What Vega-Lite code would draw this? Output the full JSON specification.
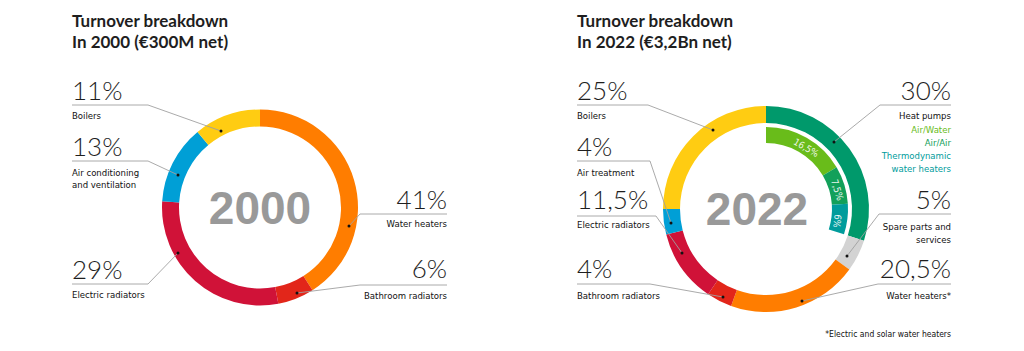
{
  "$schema": "https://vega.github.io/schema/vega-lite/v6.json",
  "width": 1024,
  "height": 351,
  "autosize": {"type": "fit", "contains": "padding"},
  "padding": 0,
  "background": "white",
  "config": {"view": {"stroke": null}, "axis": {"disable": true}, "legend": {"disable": true}},
  "datasets": {
    "donut": [
      {"chart": "2000", "cat": "water", "value": 41, "ord": 1},
      {"chart": "2000", "cat": "bath", "value": 6, "ord": 2},
      {"chart": "2000", "cat": "elec", "value": 29, "ord": 3},
      {"chart": "2000", "cat": "air", "value": 13, "ord": 4},
      {"chart": "2000", "cat": "boil", "value": 11, "ord": 5},
      {"chart": "2022", "cat": "heat", "value": 30, "ord": 1},
      {"chart": "2022", "cat": "spare", "value": 5, "ord": 2},
      {"chart": "2022", "cat": "water", "value": 20.5, "ord": 3},
      {"chart": "2022", "cat": "bath", "value": 4, "ord": 4},
      {"chart": "2022", "cat": "elec", "value": 11.5, "ord": 5},
      {"chart": "2022", "cat": "air", "value": 4, "ord": 6},
      {"chart": "2022", "cat": "boil", "value": 25, "ord": 7}
    ],
    "inner": [
      {"cat": "aw", "value": 16.5, "ord": 1},
      {"cat": "aa", "value": 7.5, "ord": 2},
      {"cat": "thermo", "value": 6, "ord": 3}
    ],
    "callouts": [
      {"hx1": 72, "hx2": 148, "hy": 105, "bx": 148, "px": 221, "py": 131},
      {"hx1": 72, "hx2": 148, "hy": 161, "bx": 148, "px": 178, "py": 175},
      {"hx1": 72, "hx2": 148, "hy": 284, "bx": 148, "px": 178, "py": 253},
      {"hx1": 360, "hx2": 447, "hy": 214, "bx": 360, "px": 349, "py": 226},
      {"hx1": 360, "hx2": 447, "hy": 285, "bx": 360, "px": 297, "py": 293},
      {"hx1": 577, "hx2": 648, "hy": 105, "bx": 648, "px": 713, "py": 130},
      {"hx1": 577, "hx2": 650, "hy": 161, "bx": 650, "px": 671, "py": 223},
      {"hx1": 577, "hx2": 656, "hy": 216, "bx": 656, "px": 682, "py": 253},
      {"hx1": 577, "hx2": 650, "hy": 284, "bx": 650, "px": 723, "py": 297},
      {"hx1": 880, "hx2": 951, "hy": 105, "bx": 880, "px": 834, "py": 142},
      {"hx1": 879, "hx2": 951, "hy": 214, "bx": 879, "px": 847, "py": 256},
      {"hx1": 878, "hx2": 951, "hy": 284, "bx": 878, "px": 802, "py": 301}
    ],
    "labels": [
      {"t": "Turnover breakdown\nIn 2000 (€300M net)", "x": 72, "y": 27, "k": "title", "side": "L"},
      {"t": "Turnover breakdown\nIn 2022 (€3,2Bn net)", "x": 577, "y": 27, "k": "title", "side": "L"},
      {"t": "11%", "x": 72, "y": 100, "k": "pct", "side": "L"},
      {"t": "13%", "x": 72, "y": 156, "k": "pct", "side": "L"},
      {"t": "29%", "x": 72, "y": 279, "k": "pct", "side": "L"},
      {"t": "41%", "x": 447, "y": 209, "k": "pct", "side": "R"},
      {"t": "6%", "x": 447, "y": 278, "k": "pct", "side": "R"},
      {"t": "25%", "x": 577, "y": 100, "k": "pct", "side": "L"},
      {"t": "4%", "x": 577, "y": 156, "k": "pct", "side": "L"},
      {"t": "11,5%", "x": 577, "y": 209, "k": "pct", "side": "L"},
      {"t": "4%", "x": 577, "y": 278, "k": "pct", "side": "L"},
      {"t": "30%", "x": 951, "y": 100, "k": "pct", "side": "R"},
      {"t": "5%", "x": 951, "y": 209, "k": "pct", "side": "R"},
      {"t": "20,5%", "x": 951, "y": 278, "k": "pct", "side": "R"},
      {"t": "Boilers", "x": 72, "y": 119, "k": "cap", "side": "L"},
      {"t": "Air conditioning", "x": 72, "y": 176, "k": "cap", "side": "L"},
      {"t": "and ventilation", "x": 72, "y": 188, "k": "cap", "side": "L"},
      {"t": "Electric radiators", "x": 72, "y": 298, "k": "cap", "side": "L"},
      {"t": "Water heaters", "x": 447, "y": 227, "k": "cap", "side": "R"},
      {"t": "Bathroom radiators", "x": 447, "y": 299, "k": "cap", "side": "R"},
      {"t": "Boilers", "x": 577, "y": 119, "k": "cap", "side": "L"},
      {"t": "Air treatment", "x": 577, "y": 176, "k": "cap", "side": "L"},
      {"t": "Electric radiators", "x": 577, "y": 228, "k": "cap", "side": "L"},
      {"t": "Bathroom radiators", "x": 577, "y": 299, "k": "cap", "side": "L"},
      {"t": "Heat pumps", "x": 951, "y": 119, "k": "cap", "side": "R"},
      {"t": "Spare parts and", "x": 951, "y": 230, "k": "cap", "side": "R"},
      {"t": "services", "x": 951, "y": 243, "k": "cap", "side": "R"},
      {"t": "Water heaters*", "x": 951, "y": 299, "k": "cap", "side": "R"},
      {"t": "*Electric and solar water heaters", "x": 951, "y": 337, "k": "note", "side": "R"},
      {"t": "Air/Water", "x": 951, "y": 133, "k": "sub", "side": "R", "cat": "aw"},
      {"t": "Air/Air", "x": 951, "y": 146, "k": "sub", "side": "R", "cat": "aa"},
      {"t": "Thermodynamic", "x": 951, "y": 159, "k": "sub", "side": "R", "cat": "thermo"},
      {"t": "water heaters", "x": 951, "y": 172, "k": "sub", "side": "R", "cat": "thermo"},
      {"t": "2000", "x": 260, "y": 224, "k": "year", "side": "C"},
      {"t": "2022", "x": 757, "y": 225, "k": "year", "side": "C"}
    ],
    "innerlab": [
      {"t": "16,5%", "x": 806, "y": 148, "rot": 30},
      {"t": "7,5%", "x": 837, "y": 190, "rot": 73},
      {"t": "6%", "x": 837, "y": 221, "rot": 97}
    ]
  },
  "encoding": {},
  "layer": [
    {
      "data": {"name": "donut"},
      "transform": [{"filter": "datum.chart == '2000'"}],
      "mark": {"type": "arc", "radius": 98, "radius2": 81},
      "encoding": {
        "x": {"datum": 260, "type": "quantitative", "scale": {"domain": [0, 1024], "nice": false, "zero": false}},
        "y": {"datum": 207.5, "type": "quantitative", "scale": {"domain": [0, 351], "nice": false, "zero": false, "reverse": true}},
        "theta": {"field": "value", "type": "quantitative", "stack": true, "scale": {"domain": [0, 100]}},
        "order": {"field": "ord", "type": "quantitative"},
        "color": {"field": "cat", "type": "nominal", "legend": null,
          "scale": {"domain": ["water", "bath", "elec", "air", "boil", "heat", "spare", "aw", "aa", "thermo"],
                    "range": ["#ff7d00", "#e2261a", "#d01238", "#009fd6", "#ffcc12", "#00996b", "#d3d3d3", "#69bc1a", "#12a05a", "#009c9c"]}}
      }
    },
    {
      "data": {"name": "donut"},
      "transform": [{"filter": "datum.chart == '2022'"}],
      "mark": {"type": "arc", "radius": 103, "radius2": 86},
      "encoding": {
        "x": {"datum": 766, "type": "quantitative"},
        "y": {"datum": 209, "type": "quantitative"},
        "theta": {"field": "value", "type": "quantitative", "stack": true},
        "order": {"field": "ord", "type": "quantitative"},
        "color": {"field": "cat", "type": "nominal", "legend": null}
      }
    },
    {
      "data": {"name": "inner"},
      "mark": {"type": "arc", "radius": 82, "radius2": 66},
      "encoding": {
        "x": {"datum": 766, "type": "quantitative"},
        "y": {"datum": 209, "type": "quantitative"},
        "theta": {"field": "value", "type": "quantitative", "stack": true},
        "order": {"field": "ord", "type": "quantitative"},
        "color": {"field": "cat", "type": "nominal", "legend": null}
      }
    },
    {
      "data": {"name": "callouts"},
      "mark": {"type": "rule", "color": "#a0a0a0", "strokeWidth": 0.9},
      "encoding": {
        "x": {"field": "hx1", "type": "quantitative"},
        "x2": {"field": "hx2"},
        "y": {"field": "hy", "type": "quantitative"}
      }
    },
    {
      "data": {"name": "callouts"},
      "mark": {"type": "rule", "color": "#a0a0a0", "strokeWidth": 0.9},
      "encoding": {
        "x": {"field": "bx", "type": "quantitative"},
        "x2": {"field": "px"},
        "y": {"field": "hy", "type": "quantitative"},
        "y2": {"field": "py"}
      }
    },
    {
      "data": {"name": "callouts"},
      "mark": {"type": "point", "filled": true, "color": "#111111", "size": 9, "opacity": 1},
      "encoding": {
        "x": {"field": "px", "type": "quantitative"},
        "y": {"field": "py", "type": "quantitative"}
      }
    },
    {
      "data": {"name": "labels"},
      "transform": [{"filter": "datum.k == 'title'"}],
      "mark": {"type": "text", "align": "left", "baseline": "alphabetic", "lineBreak": "\n", "lineHeight": 21, "font": "Lato", "fontWeight": "bold", "fontSize": 17, "color": "#1e1e1e"},
      "encoding": {
        "x": {"field": "x", "type": "quantitative"},
        "y": {"field": "y", "type": "quantitative"},
        "text": {"field": "t"}
      }
    },
    {
      "data": {"name": "labels"},
      "transform": [{"filter": "datum.k == 'pct' && datum.side == 'L'"}],
      "mark": {"type": "text", "align": "left", "baseline": "alphabetic", "font": "Lato", "fontWeight": 300, "fontSize": 26, "color": "#1e1e1e"},
      "encoding": {
        "x": {"field": "x", "type": "quantitative"},
        "y": {"field": "y", "type": "quantitative"},
        "text": {"field": "t"}
      }
    },
    {
      "data": {"name": "labels"},
      "transform": [{"filter": "datum.k == 'pct' && datum.side == 'R'"}],
      "mark": {"type": "text", "align": "right", "baseline": "alphabetic", "font": "Lato", "fontWeight": 300, "fontSize": 26, "color": "#1e1e1e"},
      "encoding": {
        "x": {"field": "x", "type": "quantitative"},
        "y": {"field": "y", "type": "quantitative"},
        "text": {"field": "t"}
      }
    },
    {
      "data": {"name": "labels"},
      "transform": [{"filter": "datum.k == 'cap' && datum.side == 'L'"}],
      "mark": {"type": "text", "align": "left", "baseline": "alphabetic", "font": "DejaVu Sans Condensed", "fontSize": 9.5, "color": "#111111"},
      "encoding": {
        "x": {"field": "x", "type": "quantitative"},
        "y": {"field": "y", "type": "quantitative"},
        "text": {"field": "t"}
      }
    },
    {
      "data": {"name": "labels"},
      "transform": [{"filter": "datum.k == 'cap' && datum.side == 'R'"}],
      "mark": {"type": "text", "align": "right", "baseline": "alphabetic", "font": "DejaVu Sans Condensed", "fontSize": 9.5, "color": "#111111"},
      "encoding": {
        "x": {"field": "x", "type": "quantitative"},
        "y": {"field": "y", "type": "quantitative"},
        "text": {"field": "t"}
      }
    },
    {
      "data": {"name": "labels"},
      "transform": [{"filter": "datum.k == 'note'"}],
      "mark": {"type": "text", "align": "right", "baseline": "alphabetic", "font": "DejaVu Sans Condensed", "fontSize": 8.5, "color": "#111111"},
      "encoding": {
        "x": {"field": "x", "type": "quantitative"},
        "y": {"field": "y", "type": "quantitative"},
        "text": {"field": "t"}
      }
    },
    {
      "data": {"name": "labels"},
      "transform": [{"filter": "datum.k == 'sub'"}],
      "mark": {"type": "text", "align": "right", "baseline": "alphabetic", "font": "DejaVu Sans Condensed", "fontSize": 9.5},
      "encoding": {
        "x": {"field": "x", "type": "quantitative"},
        "y": {"field": "y", "type": "quantitative"},
        "text": {"field": "t"},
        "color": {"field": "cat", "type": "nominal", "legend": null}
      }
    },
    {
      "data": {"name": "labels"},
      "transform": [{"filter": "datum.k == 'year'"}],
      "mark": {"type": "text", "align": "center", "baseline": "alphabetic", "font": "Liberation Sans", "fontWeight": "bold", "fontSize": 46, "color": "#999999"},
      "encoding": {
        "x": {"field": "x", "type": "quantitative"},
        "y": {"field": "y", "type": "quantitative"},
        "text": {"field": "t"}
      }
    },
    {
      "data": {"name": "innerlab"},
      "mark": {"type": "text", "align": "center", "baseline": "middle", "font": "DejaVu Sans Condensed", "fontSize": 9.5, "color": "#ffffff", "opacity": 0.9},
      "encoding": {
        "x": {"field": "x", "type": "quantitative"},
        "y": {"field": "y", "type": "quantitative"},
        "angle": {"field": "rot", "type": "quantitative", "scale": null},
        "text": {"field": "t"}
      }
    }
  ]
}
